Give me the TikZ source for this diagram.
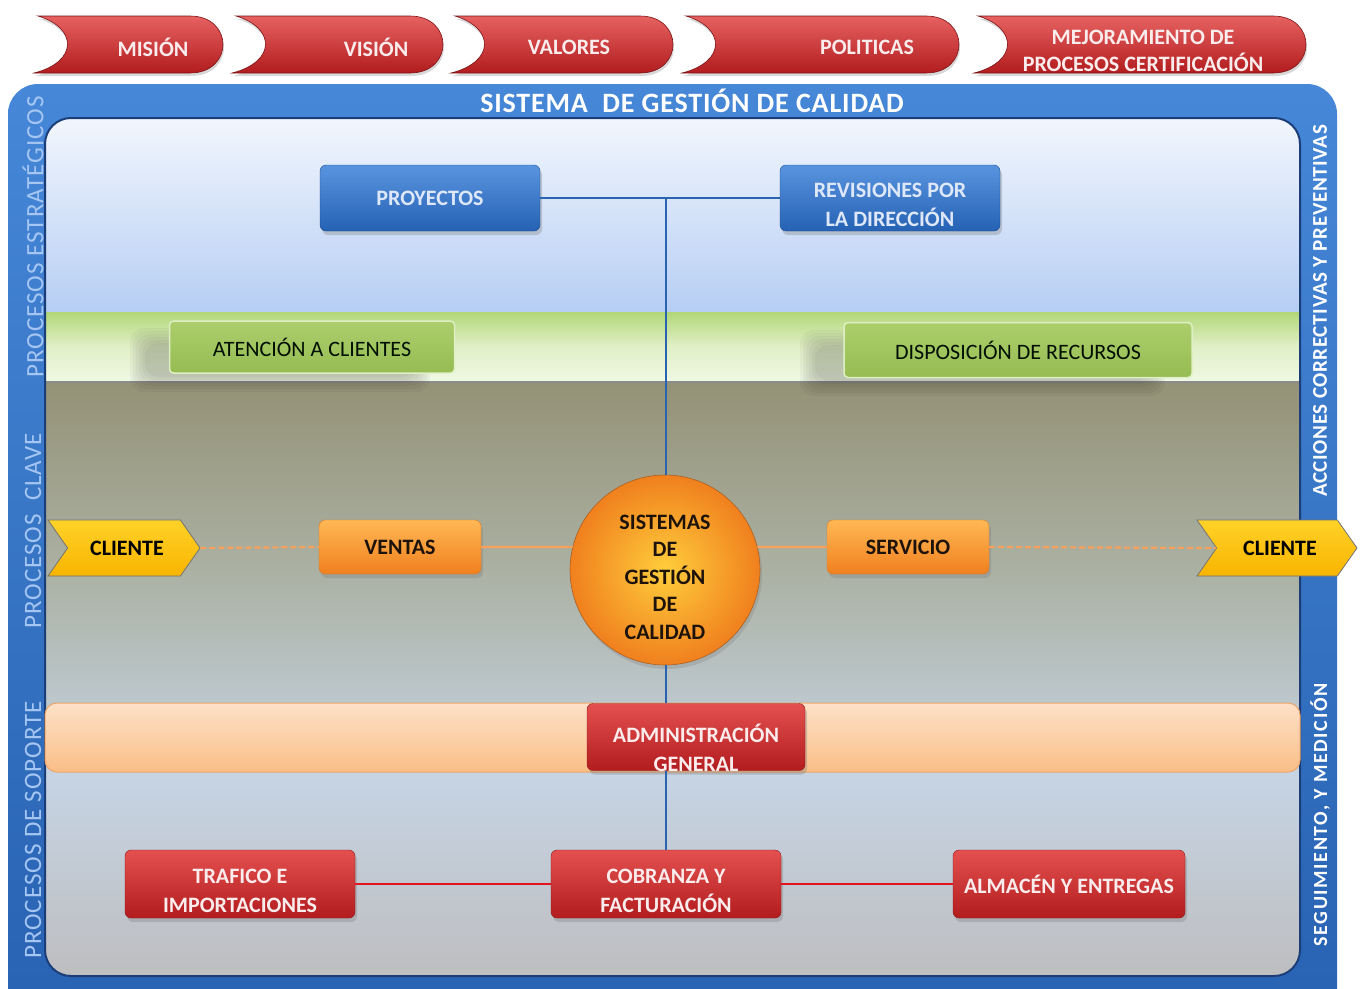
\documentclass[tikz,border=0pt]{standalone}
\usepackage{fontspec}
\setmainfont{Carlito}
\usetikzlibrary{shadows,shapes.symbols,calc}
\definecolor{frameT}{RGB}{70,135,215}
\definecolor{frameB}{RGB}{40,98,178}
\definecolor{innerEdge}{RGB}{28,62,120}
\definecolor{bOneT}{RGB}{242,246,253}
\definecolor{bOneB}{RGB}{182,206,244}
\definecolor{bTwoT}{RGB}{178,215,120}
\definecolor{bTwoM}{RGB}{225,240,200}
\definecolor{bTwoB}{RGB}{240,248,228}
\definecolor{bThrT}{RGB}{148,146,118}
\definecolor{bThrM}{RGB}{172,178,165}
\definecolor{bThrB}{RGB}{198,212,228}
\definecolor{bFivB}{RGB}{190,190,192}
\definecolor{peachT}{RGB}{253,225,200}
\definecolor{peachB}{RGB}{250,190,135}
\definecolor{peachD}{RGB}{238,165,105}
\definecolor{blueBT}{RGB}{88,148,222}
\definecolor{blueBB}{RGB}{38,98,180}
\definecolor{blueTx}{RGB}{222,232,248}
\definecolor{grnT}{RGB}{172,206,108}
\definecolor{grnB}{RGB}{150,188,82}
\definecolor{grnD}{RGB}{222,240,195}
\definecolor{oraT}{RGB}{255,184,85}
\definecolor{oraB}{RGB}{240,128,30}
\definecolor{oraD}{RGB}{215,120,40}
\definecolor{oraLine}{RGB}{250,160,90}
\definecolor{redT}{RGB}{228,80,80}
\definecolor{redB}{RGB}{178,28,30}
\definecolor{redTx}{RGB}{250,236,236}
\definecolor{redLine}{RGB}{230,20,30}
\definecolor{yelT}{RGB}{255,210,40}
\definecolor{yelB}{RGB}{248,180,0}
\definecolor{lblBlue}{RGB}{165,198,242}
\definecolor{lineBlue}{RGB}{40,100,175}
\tikzset{
  boxtext/.style={font=\bfseries\fontsize{22}{29}\selectfont, align=center},
  bluebox/.style={rounded corners=6pt, top color=blueBT, bottom color=blueBB, draw=blueBB!80!black,
    text=blueTx, boxtext, drop shadow={opacity=0.35,shadow xshift=2pt,shadow yshift=-4pt}},
  greenbox/.style={rounded corners=4pt, top color=grnT, bottom color=grnB, draw=grnD, line width=1.5pt,
    text=black!80!green!30!black, font=\fontsize{22}{26}\selectfont},
  orabox/.style={rounded corners=6pt, top color=oraT, bottom color=oraB, draw=oraD,
    text=black!85!brown, boxtext, drop shadow={opacity=0.35,shadow xshift=2pt,shadow yshift=-4pt}},
  redbox/.style={rounded corners=6pt, top color=redT, bottom color=redB, draw=redB!80!black,
    text=redTx, boxtext, drop shadow={opacity=0.35,shadow xshift=2pt,shadow yshift=-4pt}},
  chev/.style={shape=signal, signal to=east, signal from=west, signal pointer angle=110,
    top color=yelT, bottom color=yelB, draw=black!55, line width=0.8pt, inner sep=0pt,
    text=black, font=\bfseries\fontsize{22}{26}\selectfont},
  bannerpath/.style={top color=redT!90!white, bottom color=redB, draw=redB!70!black, line width=0.6pt,
    drop shadow={opacity=0.3,shadow xshift=1pt,shadow yshift=-3pt}},
  bannertext/.style={text=redTx, font=\bfseries\fontsize{22}{27}\selectfont, align=center},
  sidelbl/.style={rotate=90, text=lblBlue, font=\fontsize{25}{28}\selectfont\addfontfeature{LetterSpace=4}},
  rightlbl/.style={rotate=90, text=white, font=\bfseries\fontsize{21}{24}\selectfont\addfontfeature{LetterSpace=3}},
  blueline/.style={draw=lineBlue, line width=1.6pt},
  oraline/.style={draw=oraLine, line width=2.2pt},
  redline/.style={draw=redLine, line width=2.6pt},
  softshadow/.style={fill=black, opacity=0.035},
}
\newcommand\mkbanner[2]{%
  \path[bannerpath] (#1,-16) -- ({#2-40},-16) .. controls ({#2+4},-16) and ({#2+4},-73) .. ({#2-40},-73)
    -- ({#1-4},-73) .. controls ({#1+40},-62) and ({#1+40},-28) .. (#1,-16) -- cycle;}
\newcommand\mkblur[4]{% x0 y0 x1 y1
  \foreach \k in {0,3,...,15}{\fill[softshadow, rounded corners=14pt] ({#1+\k},{#2-\k}) rectangle ({#3-\k},{#4+\k});}}
\begin{document}
\begin{tikzpicture}[x=1pt,y=1pt]
\useasboundingbox (0,0) rectangle (1362,-988);
\fill[white] (0,0) rectangle (1362,-988);

% banners
\mkbanner{38}{230}
\mkbanner{236}{450}
\mkbanner{455}{680}
\mkbanner{686}{966}
\mkbanner{978}{1313}
\node[bannertext] (mis) at (153,-47) {MISIÓN};
\node[bannertext] (vis) at (376,-47) {VISIÓN};
\node[bannertext] (val) at (569,-47) {VALORES};
\node[bannertext] (pol) at (867,-47) {POLITICAS};
\node[bannertext] (mej) at (1143,-51) {MEJORAMIENTO DE\\PROCESOS CERTIFICACIÓN};

% outer frame
\begin{scope}
\clip (0,0) rectangle (1362,-988);
\shade[top color=frameT, bottom color=frameB, rounded corners=30pt] (8,-84) rectangle (1337,-1020);
\end{scope}
\node[text=white, font=\bfseries\fontsize{28}{30}\selectfont\addfontfeature{LetterSpace=3}] (title) at (692,-101) {SISTEMA\ \ DE GESTIÓN DE CALIDAD};

% inner panel
\begin{scope}
\clip[rounded corners=26pt] (45,-118) rectangle (1300,-976);
\shade[top color=bOneT, bottom color=bOneB] (45,-118) rectangle (1300,-312);
\shade[top color=bTwoT, bottom color=bTwoB, middle color=bTwoM] (45,-312) rectangle (1300,-382);
\shade[top color=bThrT, bottom color=bThrB, middle color=bThrM] (45,-382) rectangle (1300,-775);
\shade[top color=bThrB, bottom color=bFivB] (45,-775) rectangle (1300,-976);
\draw[line width=1.5pt, black!45] (45,-382) -- (1300,-382);
\mkblur{130}{-328}{430}{-392}
\mkblur{800}{-330}{1165}{-396}
\end{scope}
\draw[innerEdge, line width=2pt, rounded corners=26pt] (45,-118) rectangle (1300,-976);

% orange support band
\shade[rounded corners=12pt, top color=peachT, bottom color=peachB, draw=peachD, line width=1pt] (45,-703) rectangle (1300,-772);

% side labels
\node[sidelbl] (lblest) at (33,-237) {PROCESOS ESTRATÉGICOS};
\node[sidelbl] (lblcla) at (33,-531) {PROCESOS\ \ CLAVE};
\node[sidelbl] (lblsop) at (33,-830) {PROCESOS DE SOPORTE};
\node[rightlbl] (lblacc) at (1320,-311) {ACCIONES CORRECTIVAS Y PREVENTIVAS};
\node[rightlbl, font=\bfseries\fontsize{20}{24}\selectfont\addfontfeature{LetterSpace=8}] (lblseg) at (1320,-815) {SEGUIMIENTO, Y MEDICIÓN};

% strategic
\node[bluebox, minimum width=220, minimum height=66] (proy) at (430,-198) {PROYECTOS};
\node[bluebox, minimum width=220, minimum height=66,
  label={[boxtext, text=blueTx, yshift=-7pt]center:{REVISIONES POR\\LA DIRECCIÓN}}] (rev) at (890,-198) {};
\node[greenbox, minimum width=285, minimum height=52] (aten) at (312,-347) {ATENCIÓN A CLIENTES};
\node[greenbox, minimum width=348, minimum height=55] (disp) at (1018,-350) {DISPOSICIÓN DE RECURSOS};

% key
\node[circle, minimum size=190, shading=radial, inner color=oraT!70!yellow, outer color=oraB,
  draw=oraD!80!black, line width=0.6pt,
  drop shadow={opacity=0.3,shadow xshift=2pt,shadow yshift=-4pt},
  label={[boxtext, text=black!85!brown, font=\bfseries\fontsize{22}{27.5}\selectfont, yshift=-7pt]center:{SISTEMAS\\DE\\GESTIÓN\\DE\\CALIDAD}}] (sgc) at (665,-570) {};
\node[orabox, minimum width=162, minimum height=54] (ventas) at (400,-547) {VENTAS};
\node[orabox, minimum width=162, minimum height=54] (serv) at (908,-547) {SERVICIO};
\node[chev, minimum width=152, minimum height=56] (clA) at (124,-548) {\hspace*{6pt}CLIENTE};
\node[chev, minimum width=160, minimum height=56] (clB) at (1277,-548) {\hspace*{6pt}CLIENTE};

% support
\node[redbox, minimum width=218, minimum height=67,
  label={[boxtext, text=redTx, yshift=-11pt]center:{ADMINISTRACIÓN\\GENERAL}}] (adm) at (696,-737) {};
\node[redbox, minimum width=230, minimum height=68,
  label={[boxtext, text=redTx, yshift=-7pt]center:{TRAFICO E\\IMPORTACIONES}}] (traf) at (240,-884) {};
\node[redbox, minimum width=230, minimum height=68,
  label={[boxtext, text=redTx, yshift=-7pt]center:{COBRANZA Y\\FACTURACIÓN}}] (cob) at (666,-884) {};
\node[redbox, minimum width=232, minimum height=68] (alm) at (1069,-884) {ALMACÉN Y ENTREGAS};

% connectors
\coordinate (hub) at (666,-198);
\draw[blueline] (proy.east) -- (rev.west);
\draw[blueline] (hub) -- (hub |- sgc.north);
\draw[blueline] (hub |- sgc.south) -- (hub |- adm.north);
\draw[blueline] (hub |- adm.south) -- (cob.north);
\draw[oraline, dashed, dash pattern=on 6pt off 3pt] (clA.east) -- (ventas.west);
\draw[oraline] (ventas.east) -- (sgc.166);
\draw[oraline] (sgc.14) -- (serv.west);
\draw[oraline, dashed, dash pattern=on 6pt off 3pt] (serv.east) -- (clB.west);
\draw[redline] (traf.east) -- (cob.west);
\draw[redline] (cob.east) -- (alm.west);
\end{tikzpicture}
\end{document}
